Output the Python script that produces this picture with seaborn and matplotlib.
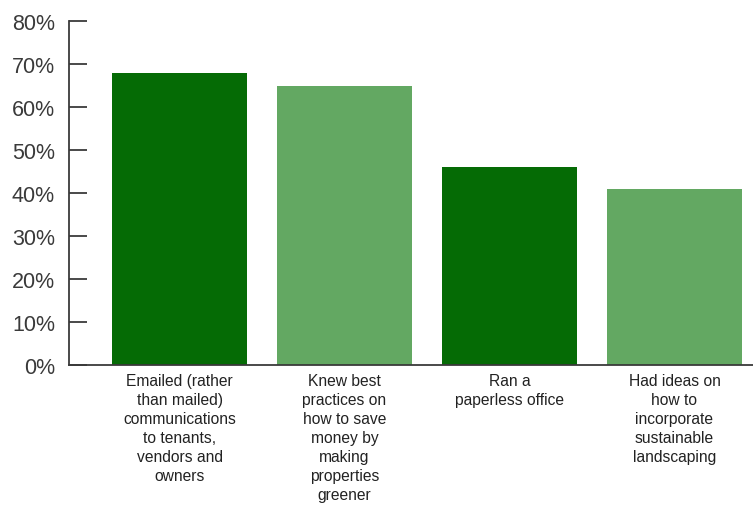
import matplotlib
matplotlib.use("Agg")
import matplotlib.pyplot as plt
import seaborn as sns
import pandas as pd
from matplotlib.ticker import PercentFormatter

categories = [
    "Emailed (rather\nthan mailed)\ncommunications\nto tenants,\nvendors and\nowners",
    "Knew best\npractices on\nhow to save\nmoney by\nmaking\nproperties\ngreener",
    "Ran a\npaperless office",
    "Had ideas on\nhow to\nincorporate\nsustainable\nlandscaping",
]
values = [68, 65, 46, 41]
bar_colors = ["#056b05", "#63a862", "#056b05", "#63a862"]
y_ticks = [0, 10, 20, 30, 40, 50, 60, 70, 80]

sns.set_theme(style="white")
plt.rcParams["font.family"] = ["Liberation Sans", "DejaVu Sans"]

df = pd.DataFrame({"category": categories, "value": values})

fig = plt.figure(figsize=(7.53, 5.06), dpi=100)
ax = fig.add_axes([69 / 753, 140 / 506, 1 - 69 / 753, 344 / 506])

sns.barplot(data=df, x="category", y="value", hue="category",
            palette=bar_colors, width=0.818, saturation=1,
            legend=False, ax=ax, linewidth=0)

ax.set_xlim(-0.67, 3.476)
ax.set_ylim(0, 80)
ax.set_yticks(y_ticks)
ax.yaxis.set_major_formatter(PercentFormatter(decimals=0))
ax.set_xlabel("")
ax.set_ylabel("")

for side in ("top", "right"):
    ax.spines[side].set_visible(False)
for side in ("left", "bottom"):
    ax.spines[side].set_color("#3a3a3a")
    ax.spines[side].set_linewidth(1.3)

ax.tick_params(axis="y", direction="in", length=13, width=1.3,
               color="#3a3a3a", pad=10, labelsize=15.5, labelcolor="#3a3a3a",
               left=True)
ax.tick_params(axis="x", length=0, pad=6, labelsize=11.25, labelcolor="#222222")
for lbl in ax.get_xticklabels():
    lbl.set_linespacing(1.33)
    lbl.set_verticalalignment("top")

fig.savefig("out.png", dpi=100)
